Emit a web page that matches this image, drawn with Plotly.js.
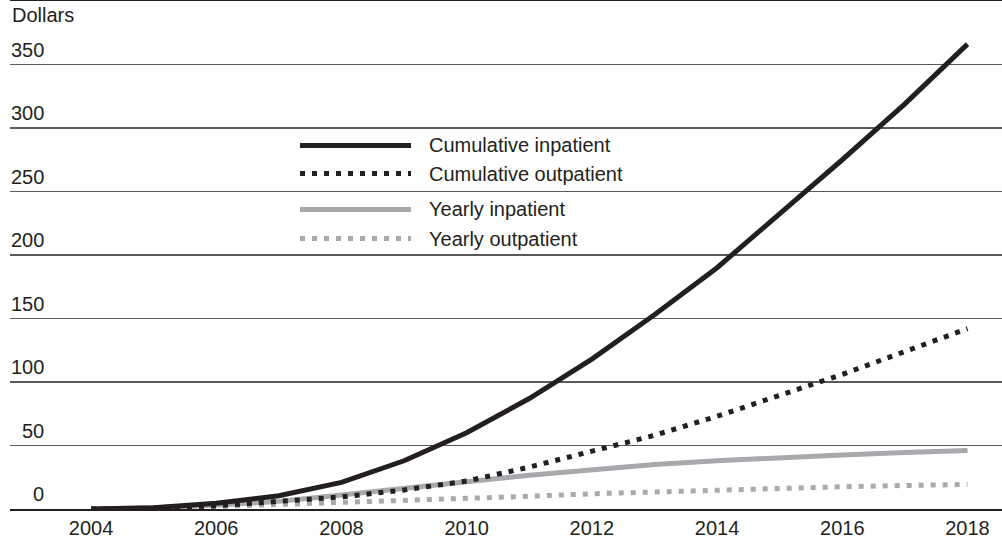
<!DOCTYPE html>
<html>
<head>
<meta charset="utf-8">
<script src="https://cdn.plot.ly/plotly-3.0.1.min.js"></script>
<style>html,body{margin:0;padding:0;background:#fff;}#chart{width:1002px;height:542px;}</style>
</head>
<body>
<div id="chart"></div>
<script>
const years = [2004, 2005, 2006, 2007, 2008, 2009, 2010, 2011, 2012, 2013, 2014, 2015, 2016, 2017, 2018];
const cumulativeInpatient = [0, 1, 4.5, 10.5, 21, 38, 60, 87, 118, 153, 190, 232, 275, 319, 366];
const cumulativeOutpatient = [0, 0.5, 2.5, 6, 9.5, 15, 22, 33, 46, 58, 73, 89, 106, 124, 142];
const yearlyInpatient = [0, 1, 3, 6, 11, 16.5, 21.5, 26.5, 31, 35, 38, 40.5, 42.5, 44.5, 46];
const yearlyOutpatient = [0, 0.5, 2, 3.5, 5, 6.5, 8, 10, 12, 13.5, 15, 16.3, 17.5, 18.5, 19.3];

const seriesNames = ["Cumulative inpatient", "Cumulative outpatient", "Yearly inpatient", "Yearly outpatient"];
const xTickVals = [2004, 2006, 2008, 2010, 2012, 2014, 2016, 2018];
const yTickVals = [0, 50, 100, 150, 200, 250, 300, 350];
const yTickText = ["0", "50", "100", "150", "200", "250", "300", "350"];
const yUnitLabel = "Dollars";

const BLACK = "#231f20";
const GRAY = "#a7a9ac";
const FONT = "Liberation Sans, Arial, sans-serif";
const DOTS = "5px,7px";

const styles = [
  {color: BLACK, dash: "solid"},
  {color: BLACK, dash: DOTS},
  {color: GRAY, dash: "solid"},
  {color: GRAY, dash: DOTS}
];
const seriesData = [cumulativeInpatient, cumulativeOutpatient, yearlyInpatient, yearlyOutpatient];

// draw order: yearly first, cumulative on top
const order = [3, 2, 1, 0];
const traces = order.map(i => ({
  type: "scatter",
  mode: "lines",
  x: years,
  y: seriesData[i],
  name: seriesNames[i],
  line: {color: styles[i].color, width: 5, dash: styles[i].dash},
  showlegend: false,
  hoverinfo: "skip"
}));

const plotLeft = 10, plotTop = 1, plotWidth = 992, plotHeight = 508;
const annotations = [];
const shapes = [];

// y tick labels, right-aligned, sitting above their gridlines
yTickVals.forEach((v, k) => {
  annotations.push({
    xref: "paper", yref: "y", x: (46 - plotLeft) / plotWidth, y: v,
    xanchor: "right", yanchor: "bottom", yshift: 2,
    text: yTickText[k], showarrow: false,
    font: {family: FONT, size: 20, color: BLACK}
  });
});
annotations.push({
  xref: "paper", yref: "paper", x: 0, y: 1, xanchor: "left", yanchor: "top",
  yshift: -1, text: yUnitLabel, showarrow: false,
  font: {family: FONT, size: 20, color: BLACK}
});

// manual legend with long line samples
const legendRowsPx = [145.5, 173.5, 209.5, 238.5];
seriesNames.forEach((name, i) => {
  const yp = 1 - (legendRowsPx[i] - plotTop) / plotHeight;
  shapes.push({
    type: "line", xref: "paper", yref: "paper",
    x0: (300 - plotLeft) / plotWidth, x1: (411 - plotLeft) / plotWidth,
    y0: yp, y1: yp,
    line: {color: styles[i].color, width: 5, dash: styles[i].dash}
  });
  annotations.push({
    xref: "paper", yref: "paper", x: (427 - plotLeft) / plotWidth, y: yp,
    xanchor: "left", yanchor: "middle", text: name, showarrow: false,
    font: {family: FONT, size: 20, color: BLACK}
  });
});

const layout = {
  width: 1002, height: 542,
  margin: {l: plotLeft, r: 0, t: plotTop, b: 33, pad: 0},
  paper_bgcolor: "#ffffff", plot_bgcolor: "#ffffff",
  showlegend: false,
  xaxis: {
    range: [2002.706, 2018.551],
    tickvals: xTickVals, ticktext: xTickVals.map(String),
    ticks: "", showgrid: false, zeroline: false,
    showline: true, mirror: true, linecolor: BLACK, linewidth: 1.5,
    tickfont: {family: FONT, size: 20, color: BLACK}
  },
  yaxis: {
    range: [0, 400], tickvals: yTickVals, showticklabels: false,
    ticks: "", showgrid: true, gridcolor: "#58595b", gridwidth: 1.5,
    zeroline: false, showline: false
  },
  annotations: annotations,
  shapes: shapes
};

Plotly.newPlot("chart", traces, layout, {displayModeBar: false, staticPlot: true});
</script>
</body>
</html>
